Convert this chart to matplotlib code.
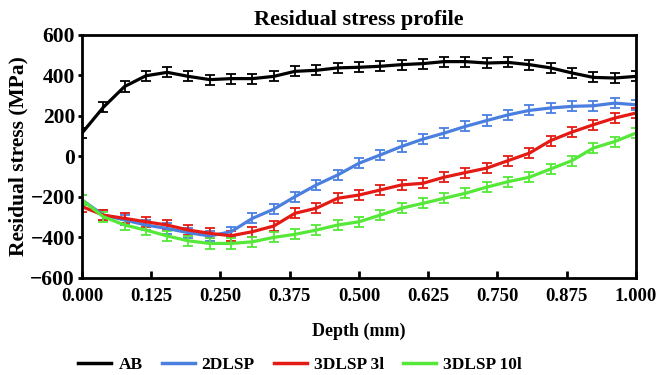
import matplotlib.pyplot as plt
import numpy as np

plt.rcParams['font.family'] = ['Liberation Serif', 'DejaVu Serif']
plt.rcParams['font.weight'] = 'bold'

# depth points: 27 measurements from 0 to 1 mm
depth = np.linspace(0, 1, 27)

ab = [115, 242, 345, 398, 415, 395, 379, 384, 384, 395, 420, 425, 437, 440,
      445, 453, 458, 468, 468, 461, 464, 453, 437, 412, 390, 387, 395]
dlsp2 = [-215, -290, -314, -339, -356, -377, -393, -372, -306, -261, -199, -141,
         -92, -34, 7, 49, 85, 115, 148, 177, 205, 227, 239, 247, 250, 263, 255]
dlsp3_3l = [-248, -290, -306, -323, -339, -364, -380, -392, -372, -344, -281, -256,
            -207, -191, -166, -141, -133, -103, -80, -58, -21, 16, 78, 120, 156, 189, 214]
dlsp3_10l = [-215, -298, -339, -364, -393, -417, -430, -430, -422, -400, -385, -364,
             -339, -323, -290, -256, -232, -207, -182, -152, -125, -103, -62, -21, 41, 73, 115]
err = 25

labels = ['AB', '2DLSP', '3DLSP 3l', '3DLSP 10l']
colors = ['#000000', '#4a7fe0', '#e41a14', '#55e838']
series = [ab, dlsp2, dlsp3_3l, dlsp3_10l]

fig = plt.figure(figsize=(6.61, 3.75), dpi=100)
ax = fig.add_axes([0.124, 0.259, 0.838, 0.648])

for y, c, lab in zip(series, colors, labels):
    ax.errorbar(depth, y, yerr=err, color=c, lw=2.3, elinewidth=1.3,
                capsize=3.5, capthick=1.3, label=lab)

ax.set_xlim(0, 1)
ax.set_ylim(-600, 600)
ax.set_xticks(np.arange(0, 1.001, 0.125))
ax.set_xticklabels(['%.3f' % v for v in np.arange(0, 1.001, 0.125)])
ax.set_yticks(range(-600, 601, 200))
ax.tick_params(axis='x', labelsize=13.5, width=2, length=5, direction='in', pad=7)
ax.tick_params(axis='y', labelsize=15.5, width=2, length=3, direction='out', pad=2)
for s in ax.spines.values():
    s.set_linewidth(2)

ax.set_title('Residual stress profile', fontsize=16, fontweight='bold', pad=7)
ax.set_xlabel('Depth (mm)', fontsize=13, fontweight='bold', labelpad=13)
ax.set_ylabel('Residual stress (MPa)', fontsize=15.5, fontweight='bold', labelpad=1)

handles = [plt.Line2D([], [], color=c, lw=2.5) for c in colors]
fig.legend(handles, labels, loc='lower left', bbox_to_anchor=(0.095, -0.037),
           ncol=4, frameon=False, fontsize=12.5, handlelength=1.9,
           handletextpad=0.4, columnspacing=1.1)

plt.savefig('out.png')
